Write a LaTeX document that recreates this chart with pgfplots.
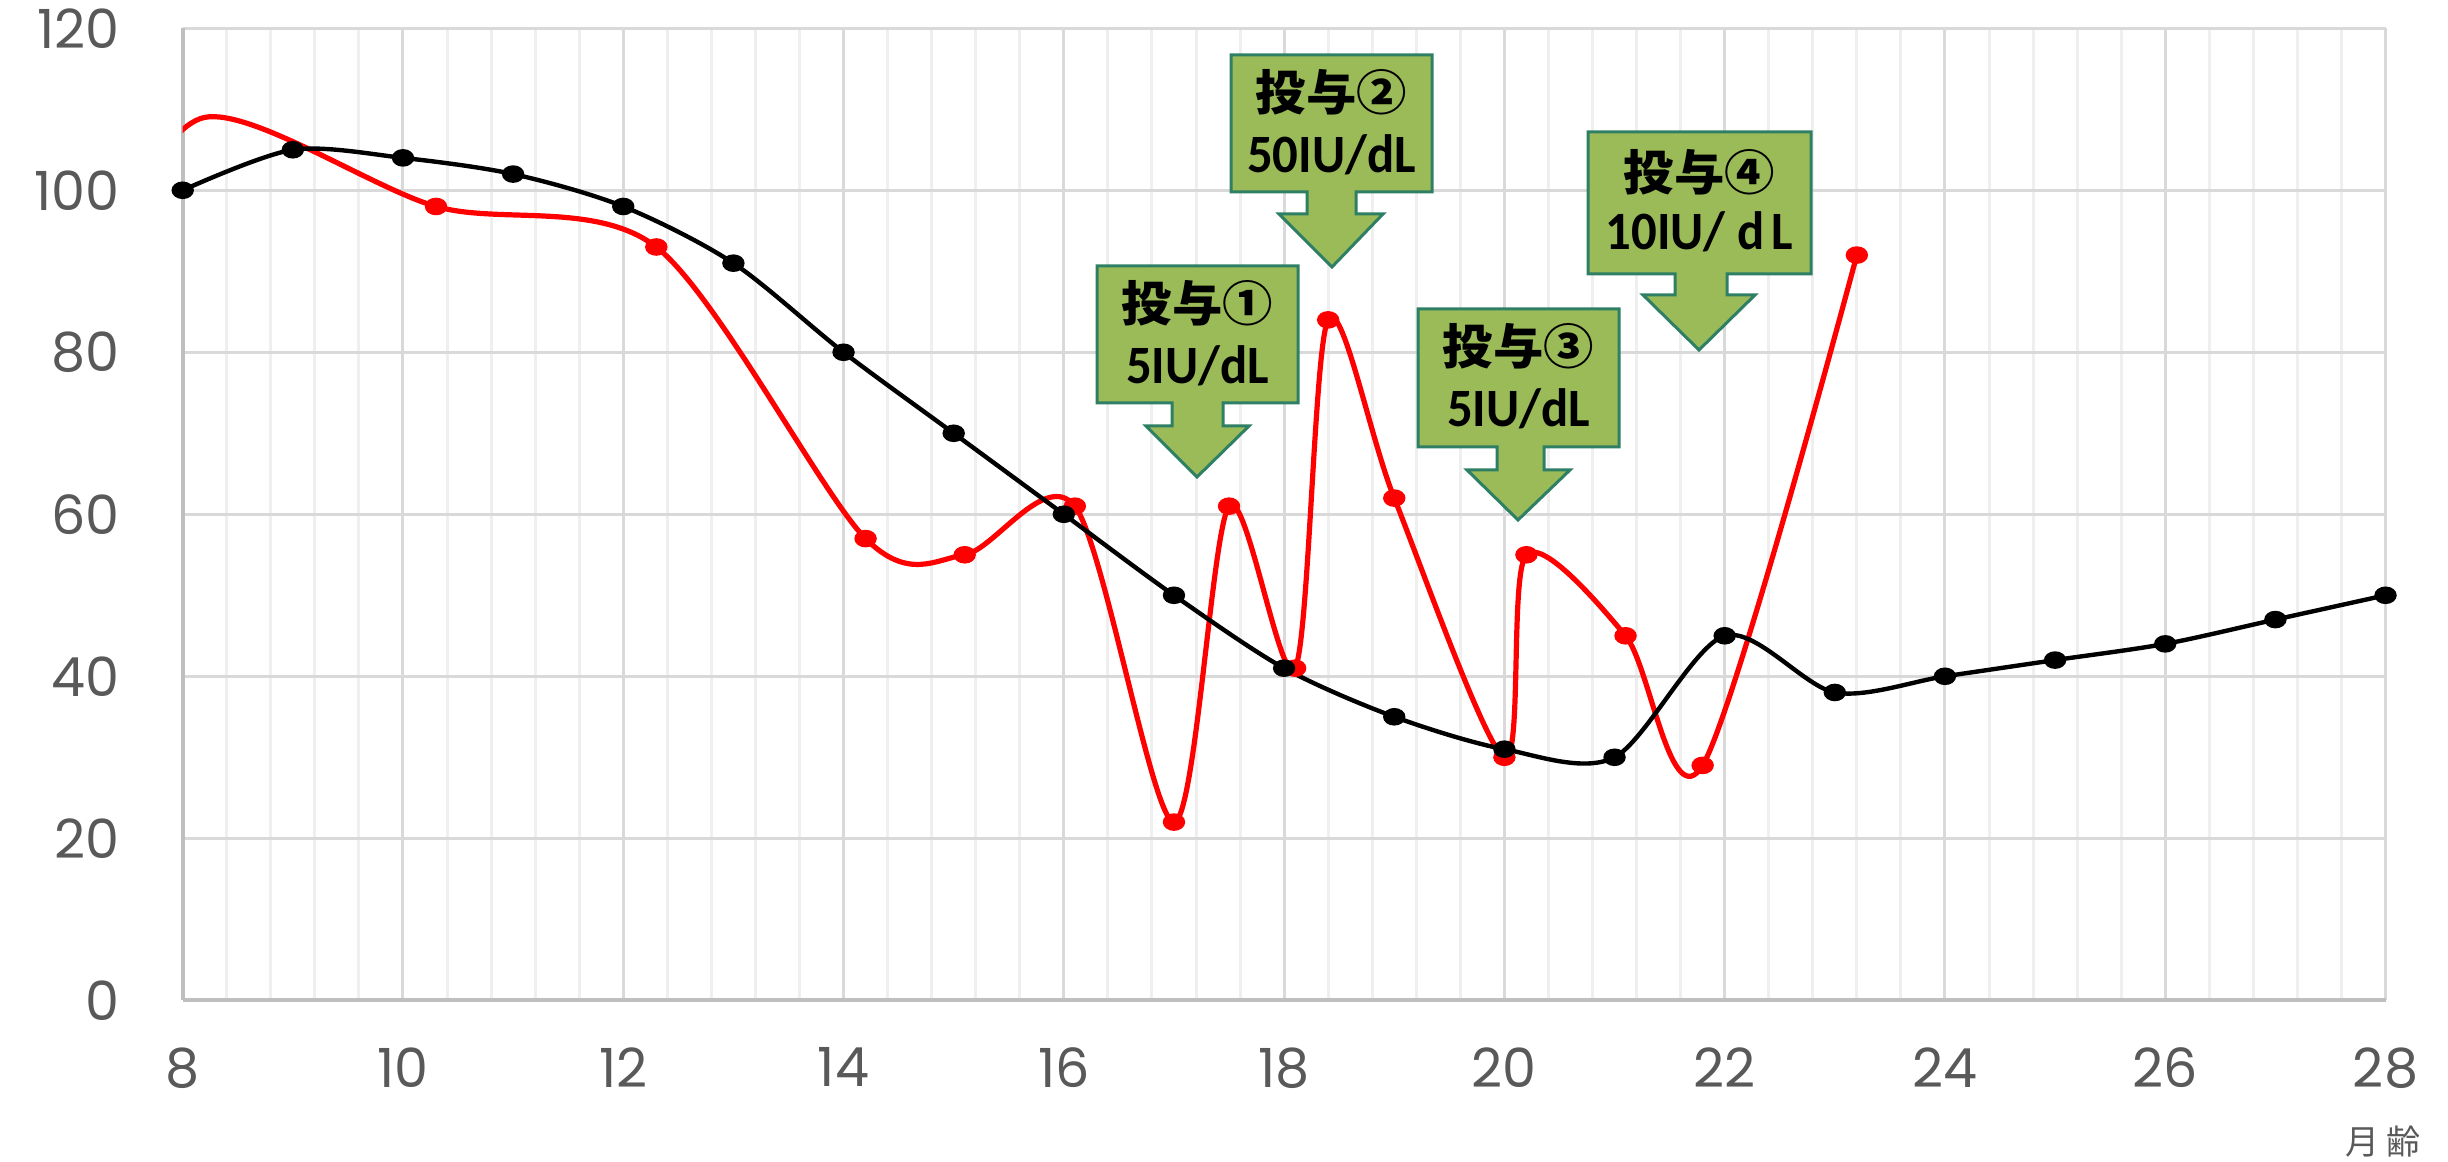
\documentclass[border=0pt]{standalone}
\usepackage{fontspec}
\setmainfont{Poppins}
\newfontfamily\jp{Noto Sans CJK JP}
\newfontfamily\lat{Carlito}
\usepackage{pgfplots}
\pgfplotsset{compat=1.18}
\definecolor{tickgray}{HTML}{595959}
\definecolor{majgrid}{HTML}{D9D9D9}
\definecolor{mingrid}{HTML}{EFEFEF}
\definecolor{axgray}{HTML}{BFBFBF}
\definecolor{calfill}{HTML}{9BBB59}
\definecolor{caldraw}{HTML}{2E7F64}
\begin{document}
\begin{tikzpicture}
\begin{axis}[
  at={(45.675pt,40.425pt)}, anchor=south west,
  scale only axis, width=550.7pt, height=243pt,
  xmin=8, xmax=28, ymin=0, ymax=120,
  xtick distance=2, ytick distance=20,
  minor x tick num=4,
  grid=both,
  major grid style={majgrid, line width=0.75pt},
  minor grid style={mingrid, line width=0.75pt},
  axis lines*=left,
  axis line style={axgray, line width=0.9pt},
  major tick length=0pt, minor tick length=0pt,
  tick style={draw=none},
  ticklabel style={font=\fontsize{13.5}{15}\selectfont, text=tickgray},
  /pgf/number format/assume math mode=true,
  xticklabel style={yshift=-8.3pt},
  yticklabel style={xshift=-12.3pt},
]
\addplot[red, line width=1.3pt, smooth, mark=*, mark indices={2,...,17}, mark size=2pt, mark options={solid, xscale=1.3, line width=0.4pt}] coordinates {
(7.2,90)(8.2,109)(10.3,98)(12.3,93)(14.2,57)(15.1,55)(16.1,61)(17.0,22)(17.5,61)(18.1,41)(18.4,84)(19.0,62)(20.0,30)(20.2,55)(21.1,45)(21.8,29)(23.2,92)};
\addplot[black, line width=1.1pt, smooth, mark=*, mark size=2pt, mark options={solid, xscale=1.3, line width=0.4pt}] coordinates {
(8,100)(9,105)(10,104)(11,102)(12,98)(13,91)(14,80)(15,70)(16,60)(17,50)(18,41)(19,35)(20,31)(21,30)(22,45)(23,38)(24,40)(25,42)(26,44)(27,47)(28,50)};
\end{axis}
\begin{scope}[x=0.25pt,y=0.25pt]
\tikzset{cal/.style={fill=calfill, draw=caldraw, line width=0.75pt, line join=miter},
  l1/.style={font=\jp\bfseries\fontsize{12}{13}\selectfont, xscale=1.05},
  l2/.style={font=\lat\bfseries\fontsize{13.5}{15}\selectfont, xscale=0.94}}
% callout 1
\path[cal] (1097,896) -- (1298,896) -- (1298,759) -- (1223,759) -- (1223,736) -- (1249,736) -- (1197,685) -- (1146,736) -- (1172,736) -- (1172,759) -- (1097,759) -- cycle;
\node[l1] at (1197.5,859) {投与①};
\node[l2] at (1197.5,796) {5IU/dL};
% callout 2
\path[cal] (1231,1107) -- (1432,1107) -- (1432,970) -- (1356,970) -- (1356,948) -- (1383,948) -- (1332,895) -- (1279,948) -- (1307,948) -- (1307,970) -- (1231,970) -- cycle;
\node[l1] at (1331.5,1070) {投与②};
\node[l2] at (1331.5,1007) {50IU/dL};
% callout 3
\path[cal] (1418,853) -- (1619,853) -- (1619,715) -- (1544,715) -- (1544,692) -- (1570,692) -- (1518,642) -- (1467,692) -- (1497,692) -- (1497,715) -- (1418,715) -- cycle;
\node[l1] at (1518.5,816) {投与③};
\node[l2] at (1518.5,753) {5IU/dL};
% callout 4
\path[cal] (1588,1030) -- (1811,1030) -- (1811,888) -- (1727,888) -- (1727,867) -- (1755,867) -- (1699,812) -- (1643,867) -- (1675,867) -- (1675,888) -- (1588,888) -- cycle;
\node[l1] at (1699.5,990) {投与④};
\node[l2] at (1699.5,930) {10IU/\hspace{3pt}d\hspace{2pt}L};
% x axis title
\node[font=\jp\fontsize{8.5}{10}\selectfont, text=tickgray] at (2383,20) {月 齢};
\end{scope}
\pgfresetboundingbox
\path (0,0) rectangle (612pt,290.5pt);
\end{tikzpicture}
\end{document}
